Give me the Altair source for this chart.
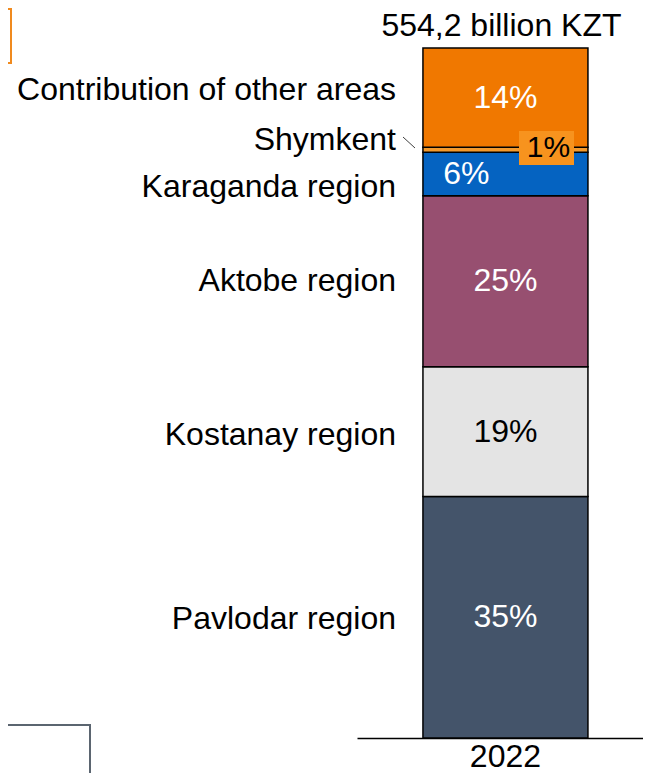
import altair as alt
import pandas as pd

# ---- data ----
year = "2022"
categories = ["Pavlodar region", "Kostanay region", "Aktobe region",
              "Karaganda region", "Shymkent", "Contribution of other areas"]
shares = [35.0, 18.8, 24.8, 6.3, 0.7, 14.4]
share_labels = ["35%", "19%", "25%", "6%", "1%", "14%"]
total_label = "554,2 billion KZT"

# ---- styles ----
colors = ["#44546A", "#E4E4E4", "#974F70", "#0563C1", "#F39A2E", "#F07800"]
text_colors = ["white", "black", "white", "white", "black", "white"]
name_dy = {"Pavlodar region": 2, "Kostanay region": 3, "Aktobe region": 0,
           "Karaganda region": 13, "Shymkent": -10, "Contribution of other areas": -8}
pct_dx = {"Karaganda region": -39, "Shymkent": 43}
pct_dy = {"Shymkent": -2}
FONT = "Liberation Sans"
FS = 32

df = pd.DataFrame({"year": [year] * len(categories), "region": categories,
                   "share": shares, "label": share_labels})
df["end"] = df["share"].cumsum()
df["start"] = df["end"] - df["share"]
df["mid"] = (df["start"] + df["end"]) / 2
total_df = pd.DataFrame({"year": [year], "total": [df["end"].max()], "label": [total_label]})

ymax = 100 * 730 / 690
x_enc = alt.X("year:N",
              scale=alt.Scale(paddingInner=0, paddingOuter=0.3667, align=0.545),
              axis=alt.Axis(title=None, ticks=False, grid=False, domainColor="black",
                            domainWidth=1.5, labelFontSize=FS, labelColor="black",
                            labelFont=FONT, labelPadding=28, labelBaseline="alphabetic",
                            labelAngle=0))
y_scale = alt.Scale(domain=[0, ymax], nice=False, zero=True)

base = alt.Chart(df)

bars = base.mark_bar(stroke="black", strokeWidth=1.5).encode(
    x=x_enc,
    y=alt.Y("start:Q", scale=y_scale, axis=None),
    y2="end:Q",
    color=alt.Color("region:N", scale=alt.Scale(domain=categories, range=colors), legend=None),
)

layers = [bars]

# label box behind "1%"
box = alt.Chart(pd.DataFrame({"k": [0]})).mark_rect(color="#F7931E").encode(
    x=alt.value(162), x2=alt.value(217), y=alt.value(123), y2=alt.value(157))
layers.append(box)

for i, cat in enumerate(categories):
    sub = base.transform_filter(alt.datum.region == cat)
    name = sub.mark_text(align="right", baseline="middle", font=FONT, fontSize=FS,
                         color="black", dy=name_dy.get(cat, 0)).encode(
        x=alt.value(39), y=alt.Y("mid:Q", scale=y_scale, axis=None), text="region:N")
    pct = sub.mark_text(align="center", baseline="middle", font=FONT,
                        fontSize=(30 if cat == "Shymkent" else FS),
                        color=text_colors[i], dx=pct_dx.get(cat, 0), dy=pct_dy.get(cat, 0)).encode(
        x=x_enc, y=alt.Y("mid:Q", scale=y_scale, axis=None), text="label:N")
    layers += [name, pct]

total = alt.Chart(total_df).mark_text(align="center", baseline="alphabetic", font=FONT,
                                      fontSize=FS, color="black", dx=-4, dy=-12).encode(
    x=x_enc, y=alt.Y("total:Q", scale=y_scale, axis=None), text="label:N")
layers.append(total)

leader = alt.Chart(pd.DataFrame({"k": [0]})).mark_rule(color="#404040", strokeWidth=1).encode(
    x=alt.value(46), x2=alt.value(58), y=alt.value(129), y2=alt.value(140))
layers.append(leader)

# cropped slide decorations
orange_box = alt.Chart(pd.DataFrame({"k": [0]})).mark_rect(
    fill="white", fillOpacity=0, stroke="#F08A1E", strokeWidth=2).encode(
    x=alt.value(-420), x2=alt.value(-346), y=alt.value(1), y2=alt.value(55))
gray_box = alt.Chart(pd.DataFrame({"k": [0]})).mark_rect(
    fill="white", fillOpacity=0, stroke="#5B6570", strokeWidth=2).encode(
    x=alt.value(-420), x2=alt.value(-267), y=alt.value(717), y2=alt.value(766))
layers += [orange_box, gray_box]

chart = alt.layer(*layers).properties(
    width=286, height=730,
    padding={"left": 349, "top": 0, "right": 0, "bottom": 35},
    autosize=alt.AutoSizeParams(type="none"),
).configure(font=FONT).configure_view(stroke=None, strokeWidth=0)

chart.save("out.html", embed_options={"renderer": "svg", "actions": False})
